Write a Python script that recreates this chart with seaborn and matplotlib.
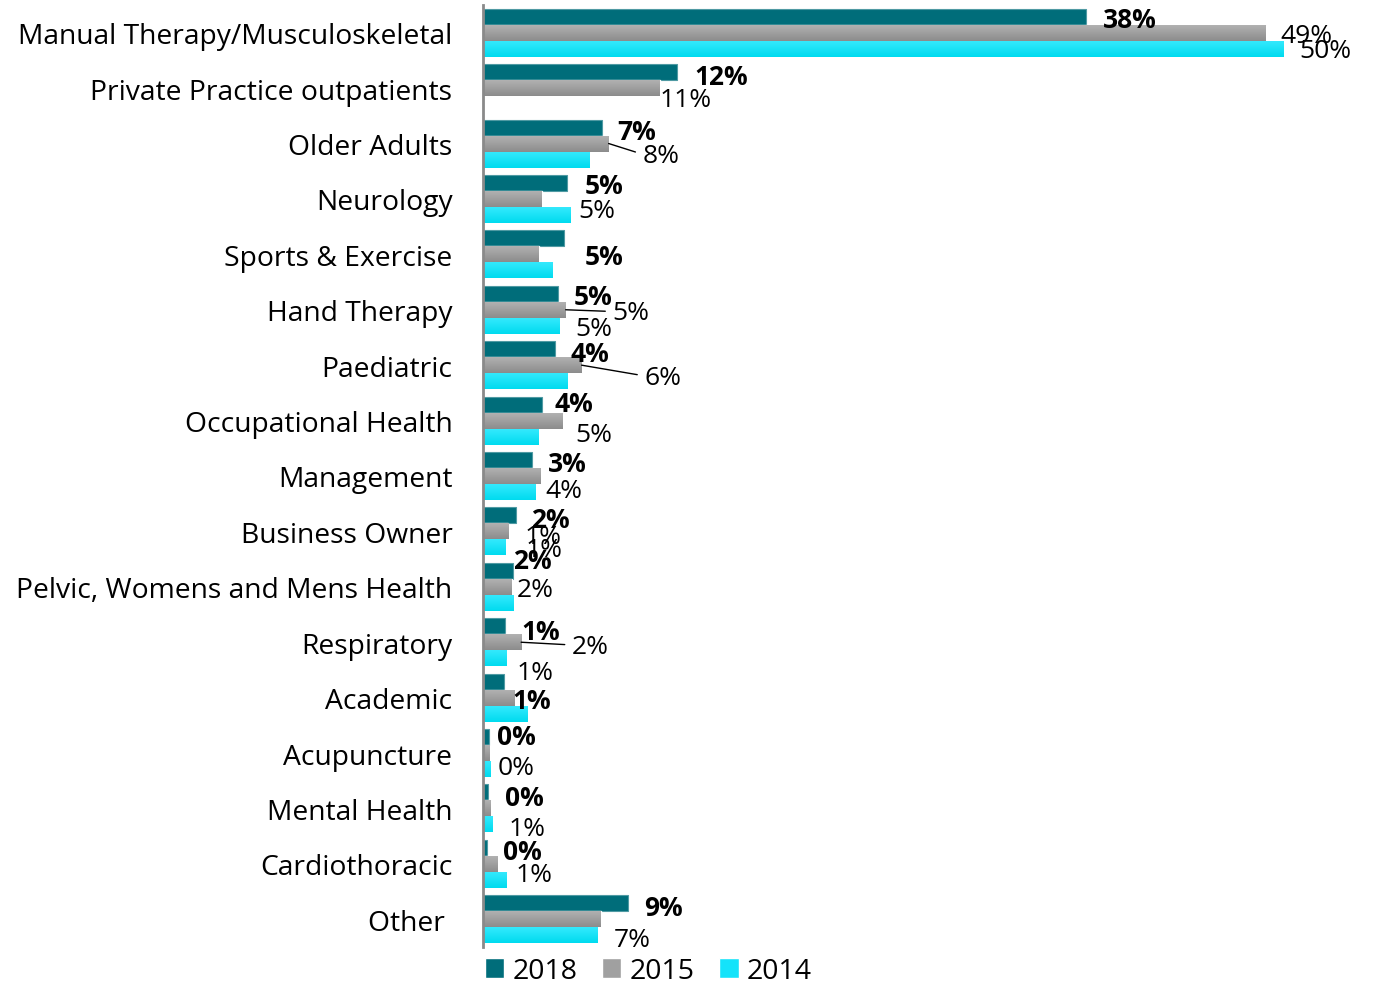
import numpy as np
import pandas as pd
import matplotlib
matplotlib.use("Agg")
import matplotlib.pyplot as plt
import seaborn as sns
from matplotlib.patches import Patch

# ---------------- data ----------------
categories = ["Manual Therapy/Musculoskeletal", "Private Practice outpatients", "Older Adults",
              "Neurology", "Sports & Exercise", "Hand Therapy", "Paediatric", "Occupational Health",
              "Management", "Business Owner", "Pelvic, Womens and Mens Health", "Respiratory",
              "Academic", "Acupuncture", "Mental Health", "Cardiothoracic", "Other "]
years = ["2018", "2015", "2014"]
v2018 = [37.9, 12.2, 7.5, 5.3, 5.1, 4.7, 4.5, 3.7, 3.1, 2.1, 1.9, 1.4, 1.3, 0.4, 0.3, 0.25, 9.1]
v2015 = [49.2, 11.1, 7.9, 3.7, 3.5, 5.2, 6.2, 5.0, 3.6, 1.6, 1.8, 2.4, 2.0, 0.4, 0.5, 0.9, 7.4]
v2014 = [50.3, 0.0, 6.7, 5.5, 4.4, 4.8, 5.3, 3.5, 3.3, 1.4, 1.9, 1.5, 2.8, 0.5, 0.6, 1.5, 7.2]
lab2018 = ["38%", "12%", "7%", "5%", "5%", "5%", "4%", "4%", "3%", "2%", "2%", "1%", "1%", "0%", "0%", "0%", "9%"]
lab2015 = ["49%", "11%", "8%", None, None, "5%", "6%", "5%", "4%", "1%", "2%", "2%", None, None, None, None, None]
lab2014 = ["50%", None, None, "5%", None, "5%", None, None, None, "1%", None, "1%", None, "0%", "1%", "1%", "7%"]

# ---------------- label placement (pixel offsets from bar end; dy downward) ----------------
off2018 = [(17, 1), (17, 2), (15, 2), (17, 1), (21, 16), (16, 1), (16, 2), (13, -3), (16, 1),
           (15, 2), (0, -12), (16, 3), (9, 17), (8, -3), (17, 3), (16, 2), (16, 2)]
off2015 = [(15, 1), (0, 9), (34, 10), None, None, (47, 1), (63, 10), (13, 12), (5, 12),
           (16, 3), (5, 1), (51, 2), None, None, None, None, None]
off2014 = [(16, 0), None, None, (8, -6), None, (16, 1), None, None, None,
           (20, 0), None, (10, 12), None, (7, -4), (16, 2), (9, -7), (16, 2)]
leader2015 = {2, 5, 6, 11}
DY_ALL = 2

rows = []
for yr, vals in zip(years, [v2018, v2015, v2014]):
    for c, v in zip(categories, vals):
        rows.append({"category": c, "year": yr, "value": v})
df = pd.DataFrame(rows)

sns.set_style("white")
plt.rcParams["font.family"] = ["Open Sans", "DejaVu Sans"]
plt.rcParams["text.color"] = "black"
plt.rcParams["ytick.labelcolor"] = "black"

W, H = 1375, 987
fig = plt.figure(figsize=(W / 100, H / 100), dpi=100)
ax = fig.add_axes([483 / W, 1 - 948 / H, 859 / W, 942 / H])

col18 = "#006d7a"
col15 = "#a2a2a2"
col14 = "#12e3fa"
sns.barplot(data=df, y="category", x="value", hue="year", hue_order=years,
            order=categories, orient="h", palette=[col18, col15, col14],
            width=0.866, ax=ax, legend=False, saturation=1, errorbar=None)

# gradients on 2015 and 2014 bars
grads = {1: ("#b1b1b1", "#8c8c8c"), 2: ("#34e9fd", "#00dbef")}
for ci, cont in enumerate(ax.containers):
    for p in cont.patches:
        if ci == 0:
            p.set_edgecolor("#4f9aa3")
            p.set_linewidth(0.8)
            continue
        top, bot = grads[ci]
        t = np.array(matplotlib.colors.to_rgb(top))
        b = np.array(matplotlib.colors.to_rgb(bot))
        g = np.linspace(0, 1, 40)[:, None, None]
        img = t[None, None, :] * (1 - g) + b[None, None, :] * g
        x0, y0, w, h = p.get_x(), p.get_y(), p.get_width(), p.get_height()
        if w <= 0:
            continue
        im = ax.imshow(img, extent=[x0, x0 + w, y0 + h, y0], aspect="auto",
                       origin="upper", zorder=p.get_zorder() + 0.1, interpolation="bilinear")
        im.set_clip_path(p)

ax.set_xlim(0, 54)
ax.set_ylim(len(categories) - 0.5, -0.5)

# labels
label_sets = [(lab2018, off2018, "bold"), (lab2015, off2015, "normal"), (lab2014, off2014, "normal")]
for ci, (labs, offs, weight) in enumerate(label_sets):
    cont = ax.containers[ci]
    for i, (p, lab, off) in enumerate(zip(cont.patches, labs, offs)):
        if lab is None:
            continue
        xe = p.get_x() + p.get_width()
        yc = p.get_y() + p.get_height() / 2
        dx, dy = off
        kw = {}
        if ci == 1 and i in leader2015:
            kw["arrowprops"] = dict(arrowstyle="-", color="black", lw=1.0,
                                    shrinkA=3, shrinkB=0, relpos=(0, 0.55))
        ax.annotate(lab, xy=(xe, yc), xytext=(dx, -(dy + DY_ALL)), textcoords="offset pixels",
                    ha="left", va="center", fontsize=19, fontweight=weight,
                    color="black", annotation_clip=False, **kw)

# axes styling
for s in ["top", "right", "bottom"]:
    ax.spines[s].set_visible(False)
ax.spines["left"].set_color("#8a8a8a")
ax.spines["left"].set_linewidth(2)
ax.set_xticks([])
ax.set_xlabel("")
ax.set_ylabel("")
ax.set_yticks(range(len(categories)))
ax.set_yticklabels(categories, fontsize=20.3, color="black")
ax.set_yticks(np.arange(-0.5, len(categories), 1), minor=True)
ax.tick_params(axis="y", which="major", length=0, pad=22)
ax.tick_params(axis="y", which="minor", length=7, width=1.5, color="#a0a0a0", direction="out")

handles = [Patch(facecolor=col18), Patch(facecolor="#a0a0a0"), Patch(facecolor="#14e3fa")]
fig.legend(handles, years, loc="center left", bbox_to_anchor=(485 / W, 1 - 972 / H), ncol=3,
           frameon=False, fontsize=20.5, handlelength=0.68, handleheight=0.68,
           handletextpad=0.3, columnspacing=0.85, borderaxespad=0, borderpad=0)

fig.savefig("out.png", dpi=100)
